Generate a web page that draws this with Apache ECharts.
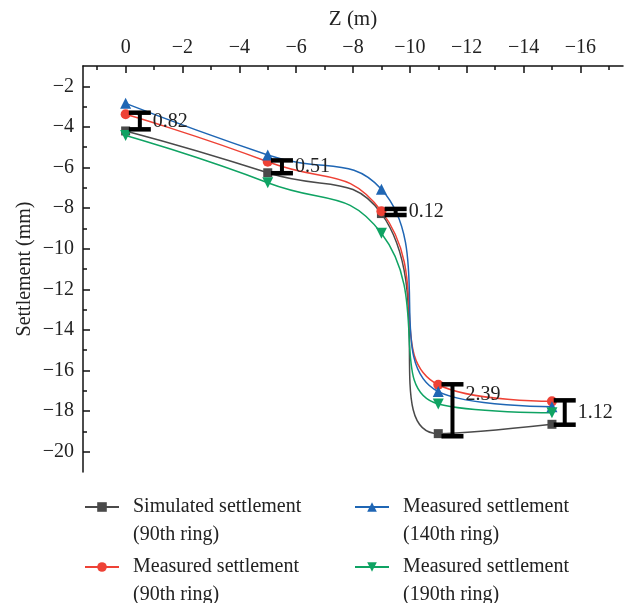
<!DOCTYPE html>
<html>
<head>
<meta charset="utf-8">
<script src="https://cdn.jsdelivr.net/npm/echarts@6/dist/echarts.min.js"></script>
<style>
  html, body { margin: 0; padding: 0; background: #fff; }
  #chart { width: 624px; height: 603px; }
</style>
</head>
<body>
<div id="chart"></div>
<script>
// ring positions along Z (m)
const zValues = [0, -5, -9, -11, -15];

// settlement (mm)
const simulated90 = [-4.2, -6.26, -8.27, -19.11, -18.65];
const measured90 = [-3.38, -5.72, -8.15, -16.7, -17.52];
const measured140 = [-2.84, -5.38, -7.07, -17.04, -17.78];
const measured190 = [-4.42, -6.75, -9.24, -17.65, -18.08];

// I-bars between simulated and measured (90th ring)
const errZ = [-0.5, -5.5, -9.5, -11.5, -15.45];
const errTop = [-3.3, -5.65, -8.04, -16.68, -17.47];
const errBottom = [-4.12, -6.28, -8.34, -19.24, -18.67];
const errLabelAt = [-3.75, -5.95, -8.2, -17.2, -18.1];
const errLabels = ['0.82', '0.51', '0.12', '2.39', '1.12'];

// tick labels
const xMajor = [0, -2, -4, -6, -8, -10, -12, -14, -16];
const xMinor = [1, -1, -3, -5, -7, -9, -11, -13, -15, -17];
const yMajor = [-2, -4, -6, -8, -10, -12, -14, -16, -18, -20];
const yMinor = [-3, -5, -7, -9, -11, -13, -15, -17, -19];

const FONT = '"Liberation Serif", "DejaVu Serif", serif';
const names = [
  'Simulated settlement (90th ring)',
  'Measured settlement (90th ring)',
  'Measured settlement (140th ring)',
  'Measured settlement (190th ring)'
];
const colors = ['#4a4a4a', '#ee4236', '#1f66b4', '#0fa363'];
const symbols = ['rect', 'circle', 'triangle', 'triangle'];
const symbolSizes = [9, 10, 11, 11];
const values = [simulated90, measured90, measured140, measured190];

function minus(v) {
  return v < 0 ? '\u2212' + Math.abs(v) : String(v);
}

let chart = echarts.init(document.getElementById('chart'));

let lineSeries = names.map((name, i) => ({
  name: name,
  type: 'line',
  smooth: 0.5,
  data: zValues.map((z, k) => [z, values[i][k]]),
  symbol: symbols[i],
  symbolSize: symbolSizes[i],
  symbolRotate: i === 3 ? 180 : 0,
  itemStyle: { color: colors[i] },
  lineStyle: { color: colors[i], width: 1.5 },
  z: 3
}));

let errSeries = {
  type: 'custom',
  data: errZ.map((z, k) => [z, errTop[k], errBottom[k], errLabelAt[k]]),
  encode: { x: 0, y: [1, 2] },
  z: 6,
  renderItem: function (params, api) {
    let x = api.value(0);
    let pTop = api.coord([x, api.value(1)]);
    let pBot = api.coord([x, api.value(2)]);
    let pLab = api.coord([x, api.value(3)]);
    let hw = 11;
    return {
      type: 'group',
      children: [
        { type: 'line', shape: { x1: pTop[0], y1: pTop[1], x2: pBot[0], y2: pBot[1] },
          style: { stroke: '#000', lineWidth: 4 } },
        { type: 'line', shape: { x1: pTop[0] - hw, y1: pTop[1], x2: pTop[0] + hw, y2: pTop[1] },
          style: { stroke: '#000', lineWidth: 4.5 } },
        { type: 'line', shape: { x1: pBot[0] - hw, y1: pBot[1], x2: pBot[0] + hw, y2: pBot[1] },
          style: { stroke: '#000', lineWidth: 4.5 } },
        { type: 'text', x: pTop[0] + hw + 2, y: pLab[1],
          style: { text: errLabels[params.dataIndex], fontFamily: FONT, fontSize: 20,
                   fill: '#222', align: 'left', verticalAlign: 'middle' } }
      ]
    };
  }
};

// one legend per entry so the 2x2 layout matches;
// a blank first line keeps the icon level with the first text line
let legendPos = [[84, 465], [84, 525], [354, 465], [354, 525]];
let legends = names.map((name, i) => ({
  data: [name],
  left: legendPos[i][0],
  top: legendPos[i][1],
  padding: 0,
  itemWidth: 34,
  itemHeight: 12,
  selectedMode: false,
  formatter: n => ' \n' + n.replace(' (', '\n('),
  textStyle: {
    fontFamily: FONT, fontSize: 20, lineHeight: 28, color: '#222',
    padding: [0, 0, 0, 9]
  }
}));

let axisX = {
  type: 'value', min: -17.5, max: 1.5, inverse: true, position: 'top',
  splitLine: { show: false }
};
let axisY = {
  type: 'value', min: -21, max: -1, position: 'left',
  splitLine: { show: false }
};

let option = {
  animation: false,
  backgroundColor: '#fff',
  grid: { left: 83, top: 66, right: 1, bottom: 131 },
  legend: legends,
  xAxis: [
    Object.assign({}, axisX, {
      name: 'Z (m)', nameLocation: 'middle', nameGap: 36,
      nameTextStyle: { fontFamily: FONT, fontSize: 21, color: '#222' },
      axisLine: { show: true, onZero: false, lineStyle: { color: '#111', width: 1.5 } },
      axisTick: { show: true, inside: true, length: 7, customValues: xMajor,
                  lineStyle: { color: '#111', width: 1.5 } },
      axisLabel: { customValues: xMajor, margin: 8, formatter: minus,
                   fontFamily: FONT, fontSize: 20, color: '#222' }
    }),
    Object.assign({}, axisX, {
      axisLine: { show: false, onZero: false },
      axisTick: { show: true, inside: true, length: 4, customValues: xMinor,
                  lineStyle: { color: '#111', width: 1.5 } },
      axisLabel: { show: false }
    })
  ],
  yAxis: [
    Object.assign({}, axisY, {
      name: 'Settlement (mm)', nameLocation: 'middle', nameGap: 48,
      nameMoveOverlap: false,
      nameTextStyle: { fontFamily: FONT, fontSize: 20, color: '#222' },
      axisLine: { show: true, onZero: false, lineStyle: { color: '#111', width: 1.5 } },
      axisTick: { show: true, inside: true, length: 7, customValues: yMajor,
                  lineStyle: { color: '#111', width: 1.5 } },
      axisLabel: { customValues: yMajor, margin: 9, formatter: minus,
                   fontFamily: FONT, fontSize: 20, color: '#222' }
    }),
    Object.assign({}, axisY, {
      axisLine: { show: false, onZero: false },
      axisTick: { show: true, inside: true, length: 4, customValues: yMinor,
                  lineStyle: { color: '#111', width: 1.5 } },
      axisLabel: { show: false }
    })
  ],
  series: lineSeries.concat([errSeries])
};

chart.setOption(option);
</script>
</body>
</html>
